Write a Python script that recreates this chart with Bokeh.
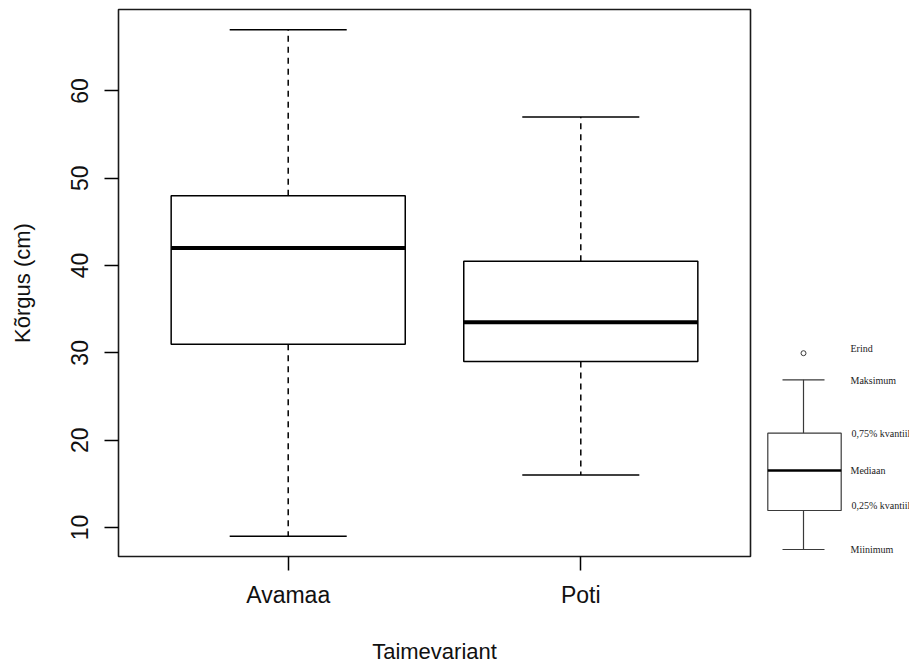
import numpy as np
from bokeh.plotting import figure
from bokeh.layouts import row
from bokeh.models import Range1d, FixedTicker, ColumnDataSource
from bokeh.core.properties import value
from bokeh.embed import file_html
from bokeh.resources import INLINE

# ---- data ----
categories = ["Avamaa", "Poti"]
whisker_min = [9, 16]
q1 = [31, 29]
median = [42, 33.5]
q3 = [48, 40.5]
whisker_max = [67, 57]
y_ticks = [10, 20, 30, 40, 50, 60]

# schematic key (page-like units inside the key panel)
key_labels = ["Erind", "Maksimum", "0,75% kvantiil", "Mediaan", "0,25% kvantiil", "Miinimum"]
key_label_y = [348, 380, 433, 470, 505, 549]
key_outlier = [352.7]
key_max = [379.3]
key_q3 = [432.7]
key_med = [470]
key_q1 = [510]
key_min = [549]

pos = list(range(1, len(categories) + 1))
n = len(categories)
box_w = 0.8
cap_w = 0.4

dmin, dmax = min(whisker_min), max(whisker_max)
pad_y = 0.04 * (dmax - dmin)
x_lo, x_hi = 0.5, n + 0.5
pad_x = 0.04 * (x_hi - x_lo)

FONT = "Liberation Sans"

p = figure(width=763, height=666, output_backend="svg", toolbar_location=None,
           x_range=Range1d(x_lo - pad_x, x_hi + pad_x),
           y_range=Range1d(dmin - pad_y, dmax + pad_y),
           min_border_left=118, min_border_right=13, min_border_top=9, min_border_bottom=110)
p.grid.visible = False
p.outline_line_color = "#1a1a1a"
p.outline_line_width = 1.6
p.background_fill_color = "white"
p.border_fill_color = "white"

src = ColumnDataSource(dict(
    x=pos, lo=whisker_min, q1=q1, med=median, q3=q3, hi=whisker_max,
    xl=[v - box_w / 2 for v in pos], xr=[v + box_w / 2 for v in pos],
    cl=[v - cap_w / 2 for v in pos], cr=[v + cap_w / 2 for v in pos],
))

# whiskers (dashed)
p.segment(x0="x", y0="q3", x1="x", y1="hi", source=src, line_color="black",
          line_width=1.5, line_dash="6 5")
p.segment(x0="x", y0="q1", x1="x", y1="lo", source=src, line_color="black",
          line_width=1.5, line_dash="6 5")
# caps
p.segment(x0="cl", y0="hi", x1="cr", y1="hi", source=src, line_color="black", line_width=1.5)
p.segment(x0="cl", y0="lo", x1="cr", y1="lo", source=src, line_color="black", line_width=1.5)
# boxes
p.vbar(x="x", width=box_w, bottom="q1", top="q3", source=src, fill_color="white",
       line_color="black", line_width=1.5)
# medians
p.segment(x0="xl", y0="med", x1="xr", y1="med", source=src, line_color="black", line_width=4)

# axes
xa = p.xaxis[0]
xa.ticker = FixedTicker(ticks=pos)
xa.major_label_overrides = {v: c for v, c in zip(pos, categories)}
ya = p.yaxis[0]
ya.ticker = FixedTicker(ticks=y_ticks)
ya.major_label_orientation = "vertical"
for ax in (xa, ya):
    ax.axis_line_color = None
    ax.major_tick_line_color = "black"
    ax.major_tick_line_width = 1.5
    ax.major_tick_out = 14
    ax.major_tick_in = 0
    ax.minor_tick_line_color = None
    ax.major_label_text_font = FONT
    ax.major_label_text_font_size = "23px"
    ax.major_label_text_color = "#111111"
    ax.axis_label_text_font = FONT
    ax.axis_label_text_font_size = "22px"
    ax.axis_label_text_font_style = "normal"
    ax.axis_label_text_color = "#111111"
xa.major_label_standoff = 11
ya.major_label_standoff = 16
xa.axis_label = "Taimevariant"
xa.axis_label_standoff = 28
ya.axis_label = "Kõrgus (cm)"
ya.axis_label_standoff = 34

# ---- key panel ----
k = figure(width=146, height=666, output_backend="svg", toolbar_location=None,
           x_range=Range1d(763, 909), y_range=Range1d(556, 9),
           min_border=0)
k.axis.visible = False
k.grid.visible = False
k.outline_line_color = None
k.background_fill_color = "white"
k.border_fill_color = "white"

kx = [803]
kc = "#3a3a3a"
k.segment(x0=kx, y0=key_q3, x1=kx, y1=key_max, line_color=kc, line_width=1.2)
k.segment(x0=kx, y0=key_q1, x1=kx, y1=key_min, line_color=kc, line_width=1.2)
k.segment(x0=[782], y0=key_max, x1=[824], y1=key_max, line_color=kc, line_width=1.2)
k.segment(x0=[782], y0=key_min, x1=[824], y1=key_min, line_color=kc, line_width=1.2)
k.quad(left=[767.3], right=[840.7], top=key_q3, bottom=key_q1, fill_color="white",
       line_color=kc, line_width=1.2)
k.segment(x0=[767.3], y0=key_med, x1=[840.7], y1=key_med, line_color="black", line_width=2.5)
k.scatter(x=kx, y=key_outlier, marker="circle", size=5, fill_color="white",
          line_color=kc, line_width=1)
k.text(x=[850, 850, 851, 850, 851, 850], y=key_label_y, text=key_labels,
       text_font=value("Liberation Serif"), text_font_size="10px",
       text_color="#222222", text_align="left", text_baseline="middle")

layout = row(p, k)
open("out.html", "w").write(file_html(layout, INLINE))
